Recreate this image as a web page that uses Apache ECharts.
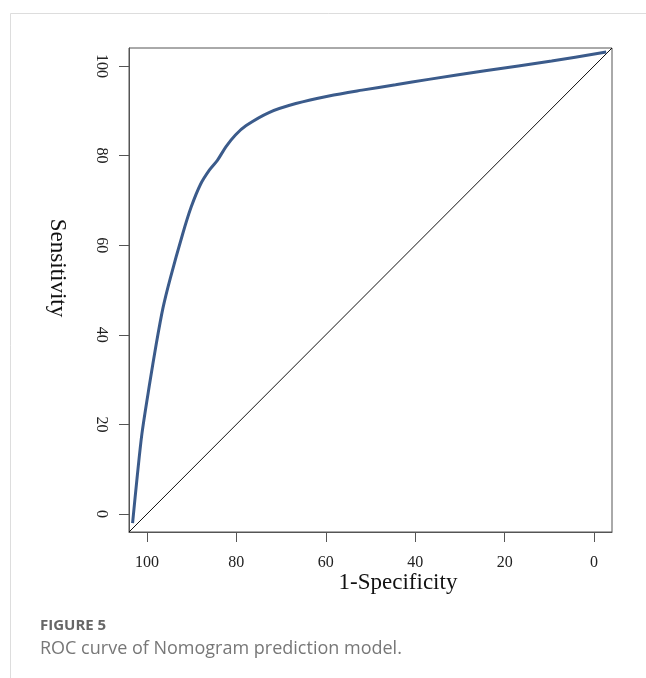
<!DOCTYPE html>
<html>
<head>
<meta charset="utf-8">
<script src="https://cdn.jsdelivr.net/npm/echarts@6/dist/echarts.min.js"></script>
<style>
  html, body { margin: 0; padding: 0; background: #fff; }
  #container { width: 646px; height: 678px; }
</style>
</head>
<body>
<div id="container"></div>
<script>
var dom = document.getElementById('container');
var myChart = echarts.init(dom);

// ROC curve points: [1-Specificity, Sensitivity]
let rocCurve = [
    [103.2, -2], [102.2, 8], [101.1, 18], [99.4, 29], [97.9, 38], [96.4, 46],
    [94.8, 52.5], [92.0, 62.5], [90.1, 68.5], [88.0, 73.6], [86.0, 76.8], [84.2, 79.0],
    [82.3, 82.0], [80.2, 84.6], [77.8, 86.7], [72.7, 89.6], [66.7, 91.6], [59.3, 93.3],
    [51.9, 94.6], [44.4, 95.8], [37.0, 97.0], [24.4, 98.9], [9.5, 101.1], [-2.7, 103.1]
];
// reference diagonal across the plot region
let diagonal = [[104, -4], [-4, 104]];
let tickValues = [0, 20, 40, 60, 80, 100];

let serif = 'Liberation Serif';

option = {
    backgroundColor: '#fff',
    animation: false,
    grid: {
        left: 129,
        right: 34,
        top: 48,
        bottom: 146,
        show: true,
        borderColor: '#555',
        borderWidth: 1
    },
    xAxis: {
        type: 'value',
        inverse: true,
        min: -4,
        max: 104,
        axisLine: { show: true, onZero: false, lineStyle: { color: '#555' } },
        axisTick: { show: true, length: 10, lineStyle: { color: '#555' }, customValues: tickValues },
        axisLabel: { fontFamily: serif, fontSize: 16, color: '#222', margin: 23, customValues: tickValues },
        splitLine: { show: false }
    },
    yAxis: {
        type: 'value',
        min: -4,
        max: 104,
        axisLine: { show: true, onZero: false, lineStyle: { color: '#555' } },
        axisTick: { show: true, length: 10, lineStyle: { color: '#555' }, customValues: tickValues },
        axisLabel: { fontFamily: serif, fontSize: 16, color: '#222', margin: 20, rotate: -90, customValues: tickValues },
        splitLine: { show: false }
    },
    series: [
        {
            name: 'diagonal',
            type: 'line',
            data: diagonal,
            symbol: 'none',
            lineStyle: { color: '#111', width: 1 },
            silent: true
        },
        {
            name: 'ROC',
            type: 'line',
            data: rocCurve,
            symbol: 'none',
            smooth: 0.3,
            lineStyle: { color: '#3b5b8b', width: 3 }
        }
    ],
    graphic: [
        { type: 'line', shape: { x1: 10.5, y1: 13.5, x2: 646, y2: 13.5 }, style: { stroke: '#ddd', lineWidth: 1 } },
        { type: 'line', shape: { x1: 10.5, y1: 13.5, x2: 10.5, y2: 678 }, style: { stroke: '#ddd', lineWidth: 1 } },
        // axis titles (placed as in the original, slightly off-centre)
        {
            type: 'text', x: 398, y: 583,
            style: { text: '1-Specificity', font: '23px "Liberation Serif"', fill: '#111', align: 'center', verticalAlign: 'middle' }
        },
        {
            type: 'text', x: 57, y: 268, rotation: -Math.PI / 2,
            style: { text: 'Sensitivity', font: '23px "Liberation Serif"', fill: '#111', align: 'center', verticalAlign: 'middle' }
        },
        {
            type: 'text', left: 40, top: 618,
            style: { text: 'FIGURE 5', font: 'bold 15px "Open Sans"', fill: '#666' }
        },
        {
            type: 'text', left: 40, top: 640,
            style: { text: 'ROC curve of Nomogram prediction model.', font: '18px "Open Sans"', fill: '#777' }
        }
    ]
};
myChart.setOption(option);

window.addEventListener('resize', function () {
    myChart.resize();
});
</script>
</body>
</html>
